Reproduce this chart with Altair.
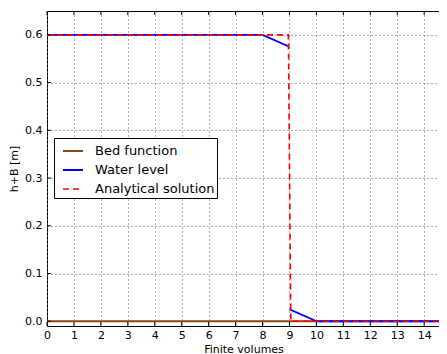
import altair as alt
import pandas as pd

# ---- data ----
series_names = ["Bed function", "Water level", "Analytical solution"]
series_colors = ["#8b4513", "#0000ff", "#ff0000"]

x_bed = [0, 15]
h_bed = [0.0, 0.0]

x_water_a = [0, 7, 8, 9]
h_water_a = [0.6, 0.6, 0.6, 0.575]
x_water_b = [9, 10, 11, 12, 13, 14, 15]
h_water_b = [0.025, 0.0, 0.0, 0.0, 0.0, 0.0, 0.0]

x_exact = [0, 8.96, 9.05, 15]
h_exact = [0.6, 0.6, 0.0, 0.0]

x_ticks = list(range(15))
y_ticks = [0.0, 0.1, 0.2, 0.3, 0.4, 0.5, 0.6]

W, H = 393, 315
X_MAX = W / 26.94
Y_MIN, Y_MAX = -0.01, 0.65

rows = []
for xv, hv in zip(x_bed, h_bed):
    rows.append(dict(x=xv, h=hv, series="Bed function", seg="bed"))
for xv, hv in zip(x_water_a, h_water_a):
    rows.append(dict(x=xv, h=hv, series="Water level", seg="wa"))
for xv, hv in zip(x_water_b, h_water_b):
    rows.append(dict(x=xv, h=hv, series="Water level", seg="wb"))
for xv, hv in zip(x_exact, h_exact):
    rows.append(dict(x=xv, h=hv, series="Analytical solution", seg="ex"))
df = pd.DataFrame(rows)

FONT = "DejaVu Sans"

xscale = alt.Scale(domain=[0, X_MAX], nice=False, zero=False)
yscale = alt.Scale(domain=[Y_MIN, Y_MAX], nice=False, zero=False)

legend = alt.Legend(
    title=None, orient="none", legendX=7, legendY=127,
    symbolType="stroke", symbolSize=400, symbolStrokeWidth=2,
    labelFontSize=13, labelFont=FONT, labelColor="black",
    padding=2, symbolOffset=6, labelOffset=11, rowPadding=1,
    strokeColor="black", fillColor="white", labelLimit=300,
)

x_axis = alt.Axis(title="Finite volumes", values=x_ticks, format="d",
                  grid=True, gridDash=[1, 3], gridColor="#666",
                  ticks=False, domain=False, labelOverlap=False,
                  labelFontSize=11, labelFont=FONT, labelColor="black",
                  labelPadding=3, titleFontSize=11, titleFont=FONT,
                  titleFontWeight="normal", titleColor="black",
                  titlePadding=3, labelFlush=False)
y_axis = alt.Axis(title="h+B [m]", values=y_ticks, format=".1f",
                  grid=True, gridDash=[1, 3], gridColor="#666",
                  ticks=False, domain=False, labelOverlap=False,
                  labelFontSize=11, labelFont=FONT, labelColor="black",
                  labelPadding=5, titleFontSize=11, titleFont=FONT,
                  titleFontWeight="normal", titleColor="black",
                  titlePadding=5)

base = alt.Chart(df).mark_line(clip=True).encode(
    x=alt.X("x:Q", scale=xscale, axis=x_axis),
    y=alt.Y("h:Q", scale=yscale, axis=y_axis),
    color=alt.Color("series:N", scale=alt.Scale(domain=series_names, range=series_colors),
                    legend=legend),
    strokeDash=alt.StrokeDash("series:N",
                              scale=alt.Scale(domain=series_names, range=[[1, 0], [1, 0], [6, 4]]),
                              legend=legend),
    opacity=alt.Opacity("series:N",
                        scale=alt.Scale(domain=series_names, range=[1, 1, 0.55]),
                        legend=legend),
    strokeWidth=alt.StrokeWidth("series:N",
                                scale=alt.Scale(domain=series_names, range=[2, 1.6, 1.3]),
                                legend=None),
    detail="seg:N",
)

layers = [base.transform_filter(alt.datum.series == s) for s in series_names]

tick_x = pd.DataFrame({"x": x_ticks})
tick_y = pd.DataFrame({"h": y_ticks})
bottom_ticks = alt.Chart(tick_x).mark_rule(color="black").encode(
    x=alt.X("x:Q", scale=xscale, axis=x_axis), y=alt.value(H), y2=alt.value(H - 4))
top_ticks = alt.Chart(tick_x).mark_rule(color="black").encode(
    x=alt.X("x:Q", scale=xscale, axis=x_axis), y=alt.value(0), y2=alt.value(4))
left_ticks = alt.Chart(tick_y).mark_rule(color="black").encode(
    y=alt.Y("h:Q", scale=yscale, axis=y_axis), x=alt.value(0), x2=alt.value(4))

chart = alt.layer(*layers, bottom_ticks, top_ticks, left_ticks).properties(
    width=W, height=H,
    autosize=alt.AutoSizeParams(type="none"),
    padding={"left": 39, "top": 3, "right": -1, "bottom": 30},
    background="white",
).configure_view(stroke="black", strokeWidth=1)

chart.save("out.html", embed_options={"renderer": "svg", "actions": False})
